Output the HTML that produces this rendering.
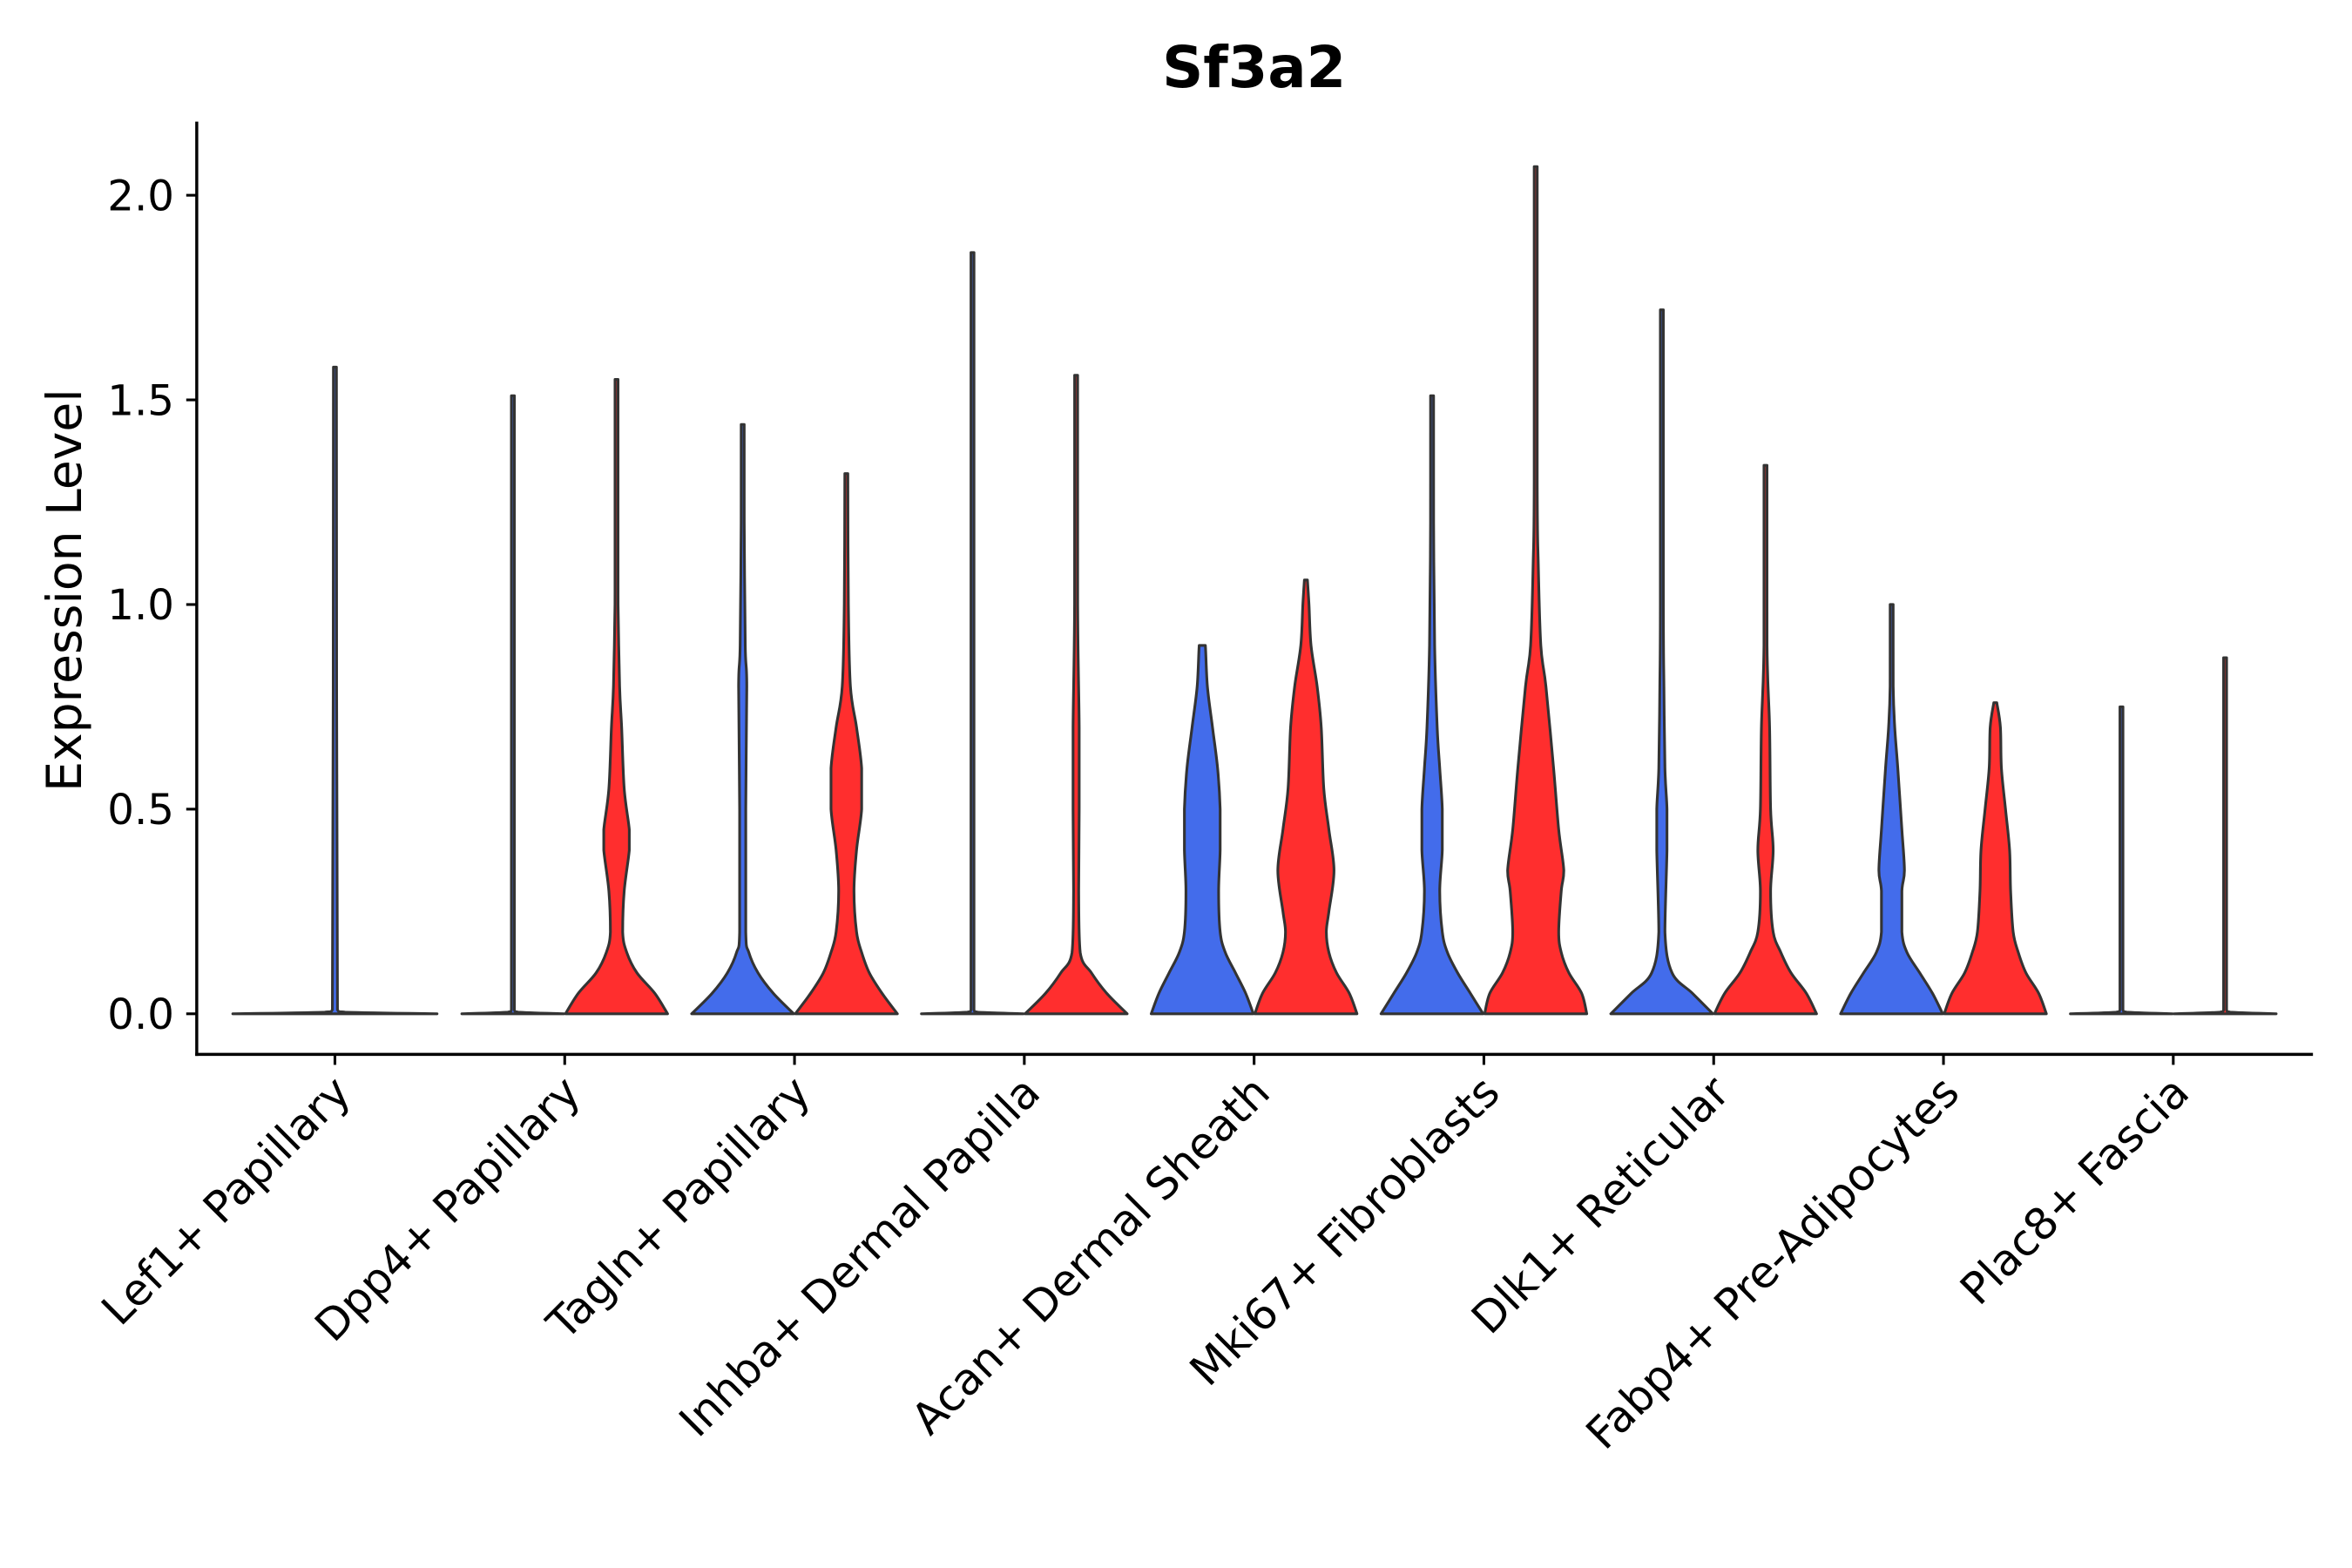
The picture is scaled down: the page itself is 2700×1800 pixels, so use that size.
<!DOCTYPE html>
<html><head><meta charset="utf-8"><style>
html,body{margin:0;padding:0;background:#fff;}
svg{display:block;}
text{font-family:"DejaVu Sans","Liberation Sans",sans-serif;fill:#000;}
</style></head><body>
<svg id="chart" width="2700" height="1800" viewBox="0 0 1566 1044" preserveAspectRatio="none">
<text x="835" y="58" text-anchor="middle" font-size="38" font-weight="bold">Sf3a2</text>
<text transform="translate(54,393) rotate(-90)" text-anchor="middle" font-size="32">Expression Level</text>
<g id="plot"></g>
</svg>
<script>
const categories = ["Lef1+ Papillary","Dpp4+ Papillary","Tagln+ Papillary","Inhba+ Dermal Papilla","Acan+ Dermal Sheath","Mki67+ Fibroblasts","Dlk1+ Reticular","Fabp4+ Pre-Adipocytes","Plac8+ Fascia"];
const yTicks = [0, 0.5, 1.0, 1.5, 2.0];
const yTickLabels = ["0.0","0.5","1.0","1.5","2.0"];
const violinCategory = [0,1,1,2,2,3,3,4,4,5,5,6,6,7,7,8,8];
const violinGroup = ["single","blue","red","blue","red","blue","red","blue","red","blue","red","blue","red","blue","red","blue","red"];
const violinMax = [1.58,1.51,1.55,1.44,1.32,1.86,1.56,0.90,1.06,1.51,2.07,1.72,1.34,1.00,0.76,0.75,0.87];
const flatV = [0,0.004,0.01]; const flatW=[1,0.1,0.025];
const profileValues = [
 flatV, flatV,
 [0,0.05,0.1,0.15,0.2,0.3,0.4,0.45,0.55,0.7,0.8,1.0,1.1],
 [0,0.05,0.1,0.15,0.2,0.5,0.8,0.9,1.2],
 [0,0.05,0.1,0.15,0.2,0.3,0.4,0.5,0.6,0.7,0.8,1.0],
 flatV,
 [0,0.05,0.1,0.15,0.3,0.5,0.7,1.0],
 [0,0.05,0.1,0.15,0.2,0.3,0.4,0.5,0.6,0.7,0.8,0.9],
 [0,0.05,0.1,0.15,0.2,0.25,0.35,0.45,0.55,0.7,0.8,0.9,1.0],
 [0,0.05,0.1,0.15,0.2,0.3,0.4,0.5,0.6,0.7,0.9,1.2],
 [0,0.05,0.1,0.15,0.2,0.3,0.35,0.45,0.6,0.8,0.9,1.1,1.3],
 [0,0.05,0.1,0.2,0.4,0.5,0.6,0.8,1.0],
 [0,0.05,0.1,0.15,0.2,0.3,0.4,0.5,0.7,0.9],
 [0,0.05,0.1,0.15,0.2,0.3,0.35,0.45,0.6,0.7,0.8],
 [0,0.05,0.1,0.15,0.2,0.3,0.4,0.5,0.6,0.7],
 flatV, flatV
];
const profileWidths = [
 flatW, flatW,
 [1,0.75,0.4,0.2,0.12,0.15,0.25,0.25,0.15,0.1,0.06,0.03,0.02],
 [1,0.6,0.3,0.12,0.06,0.06,0.08,0.05,0.03],
 [1,0.7,0.45,0.3,0.2,0.15,0.2,0.3,0.3,0.2,0.08,0.04],
 flatW,
 [1,0.6,0.3,0.08,0.05,0.06,0.06,0.03],
 [1,0.85,0.65,0.45,0.35,0.32,0.35,0.35,0.3,0.2,0.1,0.06],
 [1,0.85,0.6,0.45,0.4,0.45,0.55,0.45,0.35,0.3,0.22,0.1,0.06],
 [1,0.75,0.5,0.3,0.2,0.15,0.2,0.2,0.15,0.1,0.05,0.03],
 [1,0.9,0.65,0.5,0.45,0.5,0.55,0.45,0.35,0.2,0.1,0.05,0.02],
 [1,0.6,0.2,0.06,0.1,0.1,0.06,0.04,0.02],
 [1,0.8,0.5,0.3,0.15,0.1,0.15,0.1,0.08,0.03],
 [1,0.8,0.55,0.3,0.2,0.2,0.25,0.2,0.12,0.06,0.03],
 [1,0.85,0.6,0.45,0.35,0.3,0.28,0.2,0.12,0.1],
 flatW, flatW
];

const NS="http://www.w3.org/2000/svg";
const plot=document.getElementById('plot');
const X0=131, X1=1540, YB=702, Y0=675, PX=272.5, STEP=153, C0=223;
function yScale(v){return Y0 - v*PX;}
function xScale(i){return C0 + i*STEP;}
function mk(tag,attrs){const e=document.createElementNS(NS,tag);for(const k in attrs)e.setAttribute(k,attrs[k]);plot.appendChild(e);return e;}
function clamp(v,a,b){const lo=Math.min(a,b),hi=Math.max(a,b);return Math.max(lo,Math.min(hi,v));}
function smooth(pts){
  let d="";
  for(let i=0;i<pts.length-1;i++){
    const p0=pts[Math.max(i-1,0)],p1=pts[i],p2=pts[i+1],p3=pts[Math.min(i+2,pts.length-1)];
    const c1=[clamp(p1[0]+(p2[0]-p0[0])/6,p1[0],p2[0]),clamp(p1[1]+(p2[1]-p0[1])/6,p1[1],p2[1])];
    const c2=[clamp(p2[0]-(p3[0]-p1[0])/6,p1[0],p2[0]),clamp(p2[1]-(p3[1]-p1[1])/6,p1[1],p2[1])];
    d+=` C${c1[0].toFixed(2)},${c1[1].toFixed(2)} ${c2[0].toFixed(2)},${c2[1].toFixed(2)} ${p2[0].toFixed(2)},${p2[1].toFixed(2)}`;
  }
  return d;
}

for(let i=0;i<violinMax.length;i++){
  const g=violinGroup[i];
  const cx = xScale(violinCategory[i]) + (g==="blue"?-34.5:(g==="red"?34.5:0));
  const hw = g==="single"?68:34;
  const vs=profileValues[i].slice(), ws=profileWidths[i].slice();
  const minW = 1.0/hw;
  vs.push(violinMax[i]); ws.push(minW);
  const right=vs.map((v,j)=>[cx+Math.max(ws[j],minW)*hw, yScale(v)]);
  const left=vs.map((v,j)=>[cx-Math.max(ws[j],minW)*hw, yScale(v)]).reverse();
  let d=`M${right[0][0].toFixed(2)},${right[0][1].toFixed(2)}`+smooth(right);
  d+=` L${left[0][0].toFixed(2)},${left[0][1].toFixed(2)}`+smooth(left)+"Z";
  const fill = g==="red"?"#FF2E2E":"#436CEB";
  const p=mk('path',{d:d,fill:fill,stroke:"#333",'stroke-width':1.8,'stroke-linejoin':'round'});
  
  
}

const ya=mk('line',{x1:X0,y1:81,x2:X0,y2:YB+1,stroke:"#000",'stroke-width':2});


const xa=mk('line',{x1:X0-1,y1:YB,x2:X1,y2:YB,stroke:"#000",'stroke-width':2});



for(let k=0;k<yTicks.length;k++){
  const y=yScale(yTicks[k]);
  const t=mk('line',{x1:X0-7,y1:y,x2:X0,y2:y,stroke:"#000",'stroke-width':1.8});
  
  
  const l=mk('text',{x:X0-15,y:y+10,'text-anchor':'end','font-size':28});
  l.textContent=yTickLabels[k];
  
  
}
for(let i=0;i<categories.length;i++){
  const x=xScale(i);
  const t=mk('line',{x1:x,y1:YB,x2:x,y2:YB+7,stroke:"#000",'stroke-width':1.8});
  
  
  const l=mk('text',{transform:`translate(${x+12},${YB+27}) rotate(-45)`,'text-anchor':'end','font-size':29});
  l.textContent=categories[i];
  
  
}
</script>
</body></html>
